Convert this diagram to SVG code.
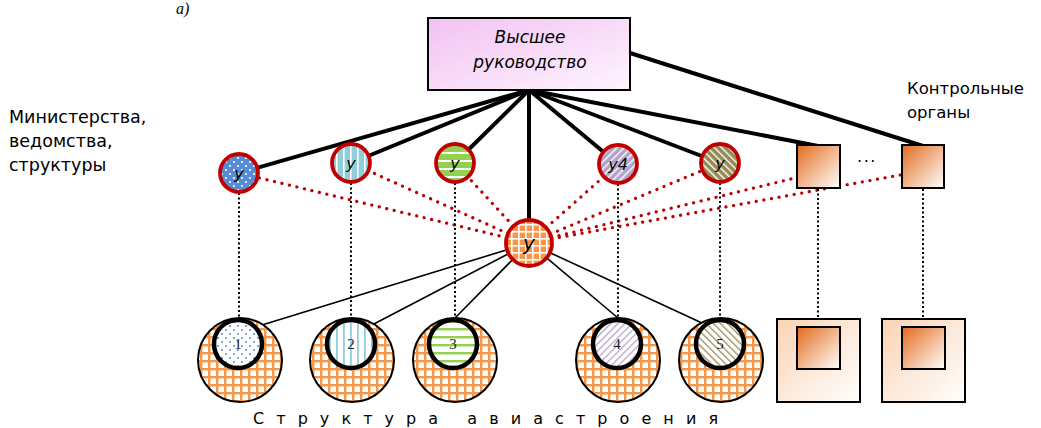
<svg xmlns="http://www.w3.org/2000/svg" width="1041" height="428" viewBox="0 0 1041 428">
  <style>
    .sans { font-family: "DejaVu Sans", Verdana, sans-serif; fill: #000; }
    .ital { font-style: italic; }
    .num { font-family: "Liberation Serif", "Times New Roman", serif; font-size: 15px; fill: #222; text-anchor: middle; }
    .mid { text-anchor: middle; }
    .heavy { stroke: #000; stroke-width: 4; fill: none; }
    .thin { stroke: #000; stroke-width: 1.6; fill: none; }
    .reddot { stroke: #C00000; stroke-width: 3.2; stroke-dasharray: 0.1 7.6; stroke-linecap: round; fill: none; }
    .blackdot { stroke: #000; stroke-width: 2; stroke-dasharray: 2 2.5; fill: none; }
    .unit { stroke: #C00000; stroke-width: 3.8; }
    .base { stroke: #000; stroke-width: 2; fill: url(#gridOnWhite); }
    .core { stroke: #000; stroke-width: 4.5; }
    .ctrl { stroke: #000; stroke-width: 2; fill: url(#ctrlFill); }
    .ctrlBig { stroke: #000; stroke-width: 2; fill: url(#ctrlBigFill); }
  </style>
  <defs>
    <linearGradient id="topFill" x1="0" y1="0" x2="1" y2="1">
      <stop offset="0" stop-color="#F2C2F2"/>
      <stop offset="1" stop-color="#FEF4FE"/>
    </linearGradient>
    <linearGradient id="ctrlFill" x1="0" y1="0" x2="1" y2="1">
      <stop offset="0" stop-color="#E26B1C"/>
      <stop offset="1" stop-color="#FFFFFF"/>
    </linearGradient>
    <linearGradient id="ctrlBigFill" x1="0" y1="0" x2="1" y2="1">
      <stop offset="0" stop-color="#FAD3B4"/>
      <stop offset="1" stop-color="#FFFFFF"/>
    </linearGradient>
    <!-- solid-colour patterns for the upper units -->
    <pattern id="dotsBlue" width="8" height="8" patternUnits="userSpaceOnUse">
      <rect width="8" height="8" fill="#568BD6"/>
      <circle cx="2" cy="2" r="1.1" fill="#fff"/>
      <circle cx="6" cy="6" r="1.1" fill="#fff"/>
    </pattern>
    <pattern id="vStripeBlue" width="7" height="7" patternUnits="userSpaceOnUse">
      <rect width="7" height="7" fill="#92CDDC"/>
      <rect x="0" width="1.6" height="7" fill="#fff"/>
    </pattern>
    <pattern id="hStripeGreen" width="8" height="8" patternUnits="userSpaceOnUse">
      <rect width="8" height="8" fill="#92D050"/>
      <rect y="0" width="8" height="2" fill="#fff"/>
    </pattern>
    <pattern id="diagLilac" width="5" height="5" patternUnits="userSpaceOnUse" patternTransform="rotate(45)">
      <rect width="5" height="5" fill="#B3A2C7"/>
      <rect width="1.4" height="5" fill="#fff"/>
    </pattern>
    <pattern id="diagOlive" width="5" height="5" patternUnits="userSpaceOnUse" patternTransform="rotate(-45)">
      <rect width="5" height="5" fill="#948A54"/>
      <rect width="1.4" height="5" fill="#fff"/>
    </pattern>
    <pattern id="gridOrange" width="7" height="7" patternUnits="userSpaceOnUse">
      <rect width="7" height="7" fill="#F79646"/>
      <rect width="7" height="1.6" fill="#fff"/>
      <rect width="1.6" height="7" fill="#fff"/>
    </pattern>
    <!-- light patterns for the lower enterprises -->
    <pattern id="gridOnWhite" width="8" height="8" patternUnits="userSpaceOnUse">
      <rect width="8" height="8" fill="#fff"/>
      <rect width="8" height="2.4" fill="#F79646"/>
      <rect width="2.4" height="8" fill="#F79646"/>
    </pattern>
    <pattern id="dotsOnWhite" width="8" height="8" patternUnits="userSpaceOnUse">
      <rect width="8" height="8" fill="#fff"/>
      <circle cx="2" cy="2" r="1" fill="#568BD6"/>
      <circle cx="6" cy="6" r="1" fill="#568BD6"/>
    </pattern>
    <pattern id="vStripeOnWhite" width="7" height="7" patternUnits="userSpaceOnUse">
      <rect width="7" height="7" fill="#fff"/>
      <rect x="0" width="1.8" height="7" fill="#92CDDC"/>
    </pattern>
    <pattern id="hStripeOnWhite" width="8" height="8" patternUnits="userSpaceOnUse">
      <rect width="8" height="8" fill="#fff"/>
      <rect y="0" width="8" height="2.4" fill="#92D050"/>
    </pattern>
    <pattern id="diagLilacOnWhite" width="5" height="5" patternUnits="userSpaceOnUse" patternTransform="rotate(45)">
      <rect width="5" height="5" fill="#fff"/>
      <rect width="1.3" height="5" fill="#B3A2C7"/>
    </pattern>
    <pattern id="diagOliveOnWhite" width="5" height="5" patternUnits="userSpaceOnUse" patternTransform="rotate(-45)">
      <rect width="5" height="5" fill="#fff"/>
      <rect width="1.3" height="5" fill="#948A54"/>
    </pattern>
  </defs>

  <!-- captions -->
  <text x="176" y="14" style="font-family:'Liberation Serif',serif;font-style:italic;font-size:16px">а)</text>
  <g class="sans">
    <text x="9" y="123" font-size="17.5">Министерства,</text>
    <text x="9" y="147" font-size="17.5">ведомства,</text>
    <text x="9" y="171" font-size="17.5">структуры</text>
    <text x="907" y="94" font-size="16.5">Контрольные</text>
    <text x="907" y="118" font-size="16.5">органы</text>
    <text x="867" y="162" class="mid" font-size="16" letter-spacing="1.5">...</text>
    <text x="253" y="424" font-size="16" textLength="465" lengthAdjust="spacing">Структура авиастроения</text>
  </g>

  <!-- connectors -->
  <g id="connectors">
    <!-- subordination from top management -->
    <line class="heavy" x1="529" y1="90" x2="239" y2="173"/>
    <line class="heavy" x1="529" y1="90" x2="351" y2="163"/>
    <line class="heavy" x1="529" y1="90" x2="455" y2="163"/>
    <line class="heavy" x1="529" y1="90" x2="529" y2="243"/>
    <line class="heavy" x1="529" y1="90" x2="618" y2="164"/>
    <line class="heavy" x1="529" y1="90" x2="720" y2="163"/>
    <line class="heavy" x1="529" y1="90" x2="818" y2="146"/>
    <line class="heavy" x1="630" y1="53" x2="923" y2="146"/>
    <!-- coordination links to the central unit -->
    <line class="reddot" x1="529" y1="243" x2="239" y2="173"/>
    <line class="reddot" x1="529" y1="243" x2="351" y2="163"/>
    <line class="reddot" x1="529" y1="243" x2="455" y2="163"/>
    <line class="reddot" x1="529" y1="243" x2="618" y2="164"/>
    <line class="reddot" x1="529" y1="243" x2="720" y2="163"/>
    <line class="reddot" x1="529" y1="243" x2="840" y2="167"/>
    <line class="reddot" x1="529" y1="243" x2="944" y2="167"/>
    <!-- central unit to enterprises -->
    <line class="thin" x1="529" y1="243" x2="262" y2="325"/>
    <line class="thin" x1="529" y1="243" x2="372" y2="325"/>
    <line class="thin" x1="529" y1="243" x2="455" y2="318"/>
    <line class="thin" x1="529" y1="243" x2="618" y2="318"/>
    <line class="thin" x1="529" y1="243" x2="702" y2="323"/>
    <!-- vertical links to enterprises -->
    <line class="blackdot" x1="239" y1="193" x2="239" y2="320"/>
    <line class="blackdot" x1="351" y1="183" x2="351" y2="320"/>
    <line class="blackdot" x1="455" y1="183" x2="455" y2="320"/>
    <line class="blackdot" x1="618" y1="184" x2="618" y2="320"/>
    <line class="blackdot" x1="720" y1="183" x2="720" y2="320"/>
    <line class="blackdot" x1="818" y1="189" x2="818" y2="327"/>
    <line class="blackdot" x1="923" y1="189" x2="923" y2="327"/>
  </g>

  <!-- top management -->
  <g id="top">
    <rect x="428" y="18" width="202" height="72" fill="url(#topFill)" stroke="#000" stroke-width="2"/>
    <text class="sans ital mid" x="530" y="43" font-size="17">Высшее</text>
    <text class="sans ital mid" x="530" y="68" font-size="17">руководство</text>
  </g>

  <!-- ministries and agencies -->
  <g id="unit1"><circle class="unit" cx="239" cy="173" r="19" fill="url(#dotsBlue)"/><text class="sans ital mid" x="239" y="179" font-size="16">у</text></g>
  <g id="unit2"><circle class="unit" cx="351" cy="163" r="19" fill="url(#vStripeBlue)"/><text class="sans ital mid" x="351" y="169" font-size="16">у</text></g>
  <g id="unit3"><circle class="unit" cx="455" cy="163" r="19" fill="url(#hStripeGreen)"/><text class="sans ital mid" x="455" y="169" font-size="16">у</text></g>
  <g id="unit4"><circle class="unit" cx="618" cy="164" r="19" fill="url(#diagLilac)"/><text class="sans ital mid" x="618" y="170" font-size="16">у4</text></g>
  <g id="unit5"><circle class="unit" cx="720" cy="163" r="19" fill="url(#diagOlive)"/><text class="sans ital mid" x="720" y="169" font-size="16">у</text></g>
  <g id="central"><circle class="unit" cx="529" cy="243" r="23" fill="url(#gridOrange)"/><text class="sans ital mid" x="529" y="250" font-size="20">у</text></g>

  <!-- control bodies -->
  <g id="control1"><rect class="ctrl" x="797" y="145" width="43" height="43"/></g>
  <g id="control2"><rect class="ctrl" x="902" y="145" width="42" height="43"/></g>

  <!-- enterprises -->
  <g id="plant1"><circle class="base" cx="240" cy="360" r="42"/><circle class="core" cx="238" cy="344" r="24" fill="url(#dotsOnWhite)"/><text class="num" x="238" y="349">1</text></g>
  <g id="plant2"><circle class="base" cx="352" cy="360" r="42"/><circle class="core" cx="351" cy="344" r="24" fill="url(#vStripeOnWhite)"/><text class="num" x="351" y="349">2</text></g>
  <g id="plant3"><circle class="base" cx="455" cy="360" r="42"/><circle class="core" cx="453" cy="344" r="24" fill="url(#hStripeOnWhite)"/><text class="num" x="453" y="349">3</text></g>
  <g id="plant4"><circle class="base" cx="618" cy="360" r="42"/><circle class="core" cx="617" cy="344" r="24" fill="url(#diagLilacOnWhite)"/><text class="num" x="617" y="349">4</text></g>
  <g id="plant5"><circle class="base" cx="721" cy="360" r="42"/><circle class="core" cx="720" cy="344" r="24" fill="url(#diagOliveOnWhite)"/><text class="num" x="720" y="349">5</text></g>
  <g id="controlPlant1"><rect class="ctrlBig" x="777" y="319" width="83" height="83"/><rect class="ctrl" x="797" y="327" width="43" height="42"/></g>
  <g id="controlPlant2"><rect class="ctrlBig" x="882" y="319" width="83" height="83"/><rect class="ctrl" x="902" y="327" width="43" height="42"/></g>
</svg>
